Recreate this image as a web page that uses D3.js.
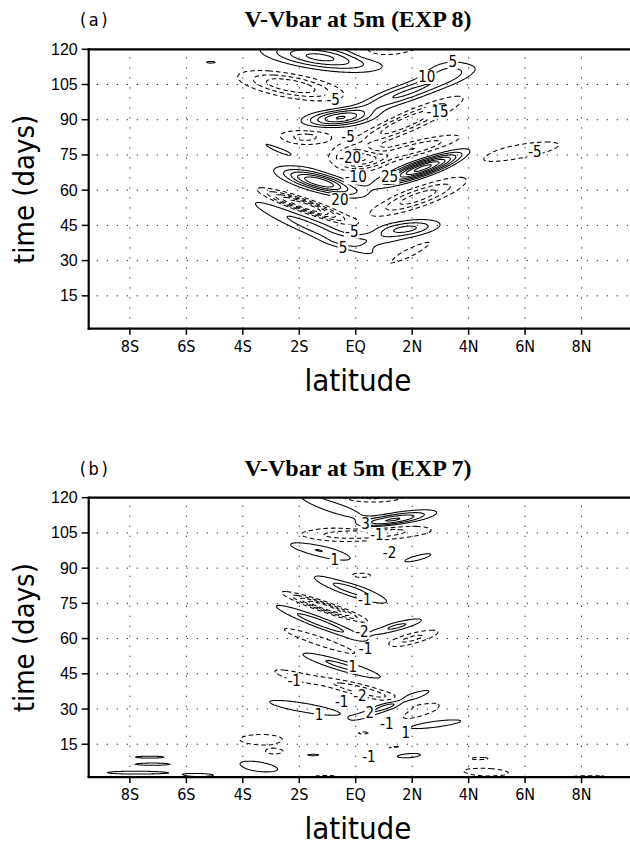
<!DOCTYPE html>
<html><head><meta charset="utf-8">
<script src="https://cdn.jsdelivr.net/npm/d3@7"></script>
<style>
body{margin:0;background:#fff}
svg text{fill:#000}
</style></head>
<body>
<svg id="fig" width="630" height="847"></svg>
<script>
// Axis ticks and labels
const LAT_TICKS = [-8, -6, -4, -2, 0, 2, 4, 6, 8];
const LAT_LABELS = ["8S", "6S", "4S", "2S", "EQ", "2N", "4N", "6N", "8N"];
const DAY_TICKS = [15, 30, 45, 60, 75, 90, 105, 120];

// Contour levels of each panel
const LEVELS_A = [-40, -35, -30, -25, -20, -15, -10, -5, 5, 10, 15, 20, 25, 30, 35, 40];
const LEVELS_B = [-5, -4, -3, -2, -1, 1, 2, 3, 4, 5];

// Anomaly cells: [lat, day, amplitude, lat half-width, day half-width, tilt (days per degree)]
const CELLS_A = [
  [-1.2, 116.5, 22, 1.8, 4.5, -1.5],
  [1.3, 121, -11, 1.3, 4, 2],
  [-2.3, 104.5, -20, 1.6, 4.5, -2],
  [1.8, 101.5, 16, 2.0, 3.8, 4],
  [3.2, 111, 8, 0.8, 4.5, 2],
  [-0.6, 90.7, 22, 1.1, 3.3, 1],
  [1.8, 89, -20, 1.7, 4, 5],
  [-1.8, 82.7, -12, 1.0, 3.5, 0],
  [-2.9, 78.4, 6, 1.5, 3.5, -5],
  [0.1, 73.5, -22, 0.8, 4.5, 0],
  [2.0, 77.5, -15, 1.6, 3, 3],
  [2.4, 69.5, 38, 1.3, 3.2, 4],
  [-1.3, 63.5, 30, 1.2, 3.5, -3],
  [-1.8, 53.3, -30, 1.3, 2.6, -4],
  [-1.5, 44, 12, 2.2, 4, -5],
  [1.75, 43.4, 17, 1.12, 3.3, 1.5],
  [0.3, 38.5, 6, 1.2, 2.5, 0],
  [1.75, 32.4, -9, 1.17, 2.5, 6],
  [2.2, 57, -18, 1.5, 4, 4],
  [5.8, 76.5, -7, 2.4, 5, 2],
  [-5.1, 114.4, 5.5, 0.9, 2.3, 0]
];
const CELLS_B = [
  [1.3, 110.5, 4.3, 1.3, 2.5, 2],
  [-0.9, 116.5, 2.0, 1.3, 3, -4],
  [0.6, 121, -2.5, 1.2, 3, 0],
  [0.3, 105, -3.2, 2.2, 3.2, 0.5],
  [-1.35, 97.7, 2.05, 1.36, 3, -3],
  [2.2, 94.4, 1.3, 0.9, 2, 3],
  [0.2, 87, -1.15, 0.95, 2.7, 0],
  [-0.2, 81, 2.5, 1.35, 3, -4],
  [-1.1, 73.5, -5, 1.2, 1.9, -4],
  [-1.25, 66.7, 2.6, 1.6, 2.5, -4.5],
  [1.4, 65, 2.3, 1.0, 2, 3],
  [2.0, 60, -2.3, 1.0, 2.5, 3],
  [-1.3, 59, -1.8, 1.6, 2.5, -4],
  [-0.5, 48.5, 2.3, 1.5, 2.5, -3.5],
  [0.2, 38, -2.8, 1.5, 2.5, -3],
  [-2.2, 44, -1.5, 1.0, 2.5, -3],
  [2.3, 29, -1.6, 0.9, 3, 4],
  [-1.8, 30.5, 2.0, 1.5, 2.3, -2],
  [1.3, 32, 2.6, 1.3, 2, 4.3],
  [2.8, 23.5, 1.4, 1.6, 2.2, 1.5],
  [0.3, 19.8, -1.2, 0.6, 1.5, 0],
  [1.2, 16.3, 1.15, 0.9, 1.5, 1],
  [-3.35, 17, -1.3, 1.47, 4.2, 0],
  [-1.5, 10.4, 1.15, 0.8, 1.2, 0],
  [1.0, 12.5, -1.5, 1.6, 3, 2],
  [1.65, 10.5, 1.45, 1.4, 2.7, 0],
  [-3.4, 5.2, 1.5, 1.1, 3.5, -2],
  [2.4, 2.5, 1.3, 1.5, 2.5, -1],
  [-7.3, 9.5, 1.3, 1.0, 0.8, 0],
  [-7.2, 6.5, 1.35, 1.1, 0.9, 0],
  [-7.8, 2.9, 1.6, 1.46, 0.9, 0],
  [-5.5, 1.8, 1.3, 1.0, 1.2, 0],
  [-1.0, 1.2, -1.1, 2.5, 2, 0],
  [0.65, 1.5, 1.3, 0.8, 2, 0],
  [4.4, 3, -1.4, 1.6, 3, 0],
  [4.3, 9, -1.05, 1.5, 2, 0],
  [8.3, 1, -1.1, 2, 2, 0],
  [-2.85, 11.5, -1.05, 0.6, 2, 0]
];

// Contour labels: [lat, day, level]
const TAGS_A = [
  [3.44, 114.6, 5], [2.52, 108.2, 10], [-0.8, 98.4, -5], [2.9, 93.3, -15],
  [-0.27, 82.7, -5], [-0.2, 73.8, -20], [0.0, 65.4, -10], [1.2, 65.6, 25],
  [-0.56, 55.9, 20], [-0.14, 42.3, -5], [-0.45, 35.5, 5], [6.35, 76.3, -5]
];
const TAGS_B = [
  [0.35, 108.8, 3], [0.75, 104, -1], [1.2, 96.6, -2], [-0.74, 93.5, 1],
  [0.32, 76.4, -1], [0.22, 62.8, -2], [0.35, 55.5, -1], [-0.1, 48, 1],
  [-2.18, 41.8, -1], [-0.5, 33, -1], [0.15, 35.5, -2], [-1.3, 27.5, 1],
  [0.5, 28.3, 2], [1.1, 23.5, -1], [1.77, 19.7, 1], [0.47, 9.5, -1]
];

const PANEL_TAGS = ["(a)", "(b)"];
const TITLES = ["V-Vbar at 5m (EXP 8)", "V-Vbar at 5m (EXP 7)"];

const svg = d3.select("#fig");
const X0 = 88.7, X1 = 638, H = 279.4;
const x = d3.scaleLinear([-9.46, 10], [X0, X1]);

// grid for the field
const LAT_MIN = -10, LAT_STEP = 0.05, NX = 411;
const DAY_MIN = -1, DAY_STEP = 0.25, NY = 493;

function field(cells) {
  const v = new Float64Array(NX * NY);
  for (const [la, dy, amp, sl, sd, k] of cells) {
    for (let i = 0; i < NX; i++) {
      const u = (LAT_MIN + i * LAT_STEP) - la;
      const eu = (u / sl) * (u / sl);
      if (eu > 16) continue;
      for (let j = 0; j < NY; j++) {
        const w = (DAY_MIN + j * DAY_STEP) - dy - k * u;
        const ev = (w / sd) * (w / sd);
        if (ev > 16) continue;
        v[j * NX + i] += amp * Math.exp(-eu - ev);
      }
    }
  }
  return v;
}

const NARROW = "'Liberation Sans Narrow','DejaVu Sans Condensed',sans-serif";

function drawPanel(idx, top, cells, levels, tags) {
  const bottom = top + H;
  const y = d3.scaleLinear([1, 120], [bottom, top]);
  const g = svg.append("g");
  const clipId = "clip" + idx;
  svg.append("clipPath").attr("id", clipId)
    .append("rect").attr("x", X0).attr("y", top).attr("width", X1 - X0).attr("height", H);

  // dotted grid
  g.selectAll(".vg").data(LAT_TICKS).join("line")
    .attr("x1", d => x(d)).attr("x2", d => x(d))
    .attr("y1", top + 8).attr("y2", bottom)
    .attr("stroke", "#333").attr("stroke-width", 1).attr("stroke-dasharray", "1.3,8.7");
  g.selectAll(".hg").data(DAY_TICKS.filter(d => d < 120)).join("line")
    .attr("x1", X0 + 8).attr("x2", X1)
    .attr("y1", d => y(d)).attr("y2", d => y(d))
    .attr("stroke", "#333").attr("stroke-width", 1).attr("stroke-dasharray", "1.3,8.7");

  // contours
  const values = field(cells);
  const contours = d3.contours().size([NX, NY]).thresholds(levels)(values);
  const proj = d3.geoTransform({
    point(px, py) {
      this.stream.point(x(LAT_MIN + (px - 0.5) * LAT_STEP), y(DAY_MIN + (py - 0.5) * DAY_STEP));
    }
  });
  const path = d3.geoPath(proj);
  g.append("g").attr("clip-path", `url(#${clipId})`)
    .selectAll("path").data(contours).join("path")
    .attr("d", path)
    .attr("fill", "none").attr("stroke", "#000").attr("stroke-width", 1.05)
    .attr("stroke-dasharray", d => d.value < 0 ? "4.5,3" : null);

  // contour labels
  const lg = g.append("g");
  for (const [la, dy, lv] of tags) {
    const t = lg.append("text").attr("x", x(la)).attr("y", y(dy))
      .attr("text-anchor", "middle").attr("dominant-baseline", "central")
      .style("font-family", NARROW).style("font-size", "15px").text(String(lv));
    const b = t.node().getBBox();
    lg.insert("rect", () => t.node()).attr("x", b.x - 1).attr("y", b.y + 2)
      .attr("width", b.width + 2).attr("height", b.height - 4).attr("fill", "#fff");
  }

  // frame
  g.append("line").attr("x1", X0).attr("x2", X0).attr("y1", top - 1).attr("y2", bottom + 1)
    .attr("stroke", "#000").attr("stroke-width", 2.2);
  g.append("line").attr("x1", X0 - 1).attr("x2", X1).attr("y1", bottom).attr("y2", bottom)
    .attr("stroke", "#000").attr("stroke-width", 2.2);
  g.append("line").attr("x1", X0 - 1).attr("x2", X1).attr("y1", top).attr("y2", top)
    .attr("stroke", "#000").attr("stroke-width", 2.2);

  // y axis
  g.selectAll(".yt").data(DAY_TICKS).join("line")
    .attr("x1", X0 - 7).attr("x2", X0).attr("y1", d => y(d)).attr("y2", d => y(d))
    .attr("stroke", "#000").attr("stroke-width", 1.5);
  g.selectAll(".yl").data(DAY_TICKS).join("text")
    .attr("x", X0 - 11).attr("y", d => y(d)).attr("text-anchor", "end")
    .attr("dominant-baseline", "central")
    .style("font-family", "'Liberation Sans',Arial,sans-serif").style("font-size", "16px")
    .text(d => d);

  // x axis
  g.selectAll(".xt").data(LAT_TICKS).join("line")
    .attr("x1", d => x(d)).attr("x2", d => x(d)).attr("y1", bottom).attr("y2", bottom + 6)
    .attr("stroke", "#000").attr("stroke-width", 1.5);
  g.selectAll(".xl").data(LAT_TICKS).join("text")
    .attr("x", d => x(d)).attr("y", bottom + 23).attr("text-anchor", "middle")
    .style("font-family", NARROW).style("font-size", "16px")
    .text((d, i) => LAT_LABELS[i]);

  // axis titles
  g.append("text").attr("x", 358).attr("y", bottom + 62).attr("text-anchor", "middle")
    .style("font-family", NARROW).style("font-size", "31px").text("latitude");
  g.append("text").attr("transform", `translate(34,${top + 140}) rotate(-90)`)
    .attr("text-anchor", "middle")
    .style("font-family", NARROW).style("font-size", "29px").text("time (days)");

  // panel tag and title
  g.append("text").attr("x", 95).attr("y", top - 23).attr("text-anchor", "middle")
    .style("font-family", NARROW).style("font-size", "18px")
    .style("letter-spacing", "2.5px").text(PANEL_TAGS[idx]);
  g.append("text").attr("x", 358).attr("y", top - 22).attr("text-anchor", "middle")
    .style("font-family", "'Liberation Serif','Times New Roman',serif").style("font-size", "24px")
    .style("font-weight", "bold").text(TITLES[idx]);
}

drawPanel(0, 49.3, CELLS_A, LEVELS_A, TAGS_A);
drawPanel(1, 497.7, CELLS_B, LEVELS_B, TAGS_B);
</script>
</body></html>
